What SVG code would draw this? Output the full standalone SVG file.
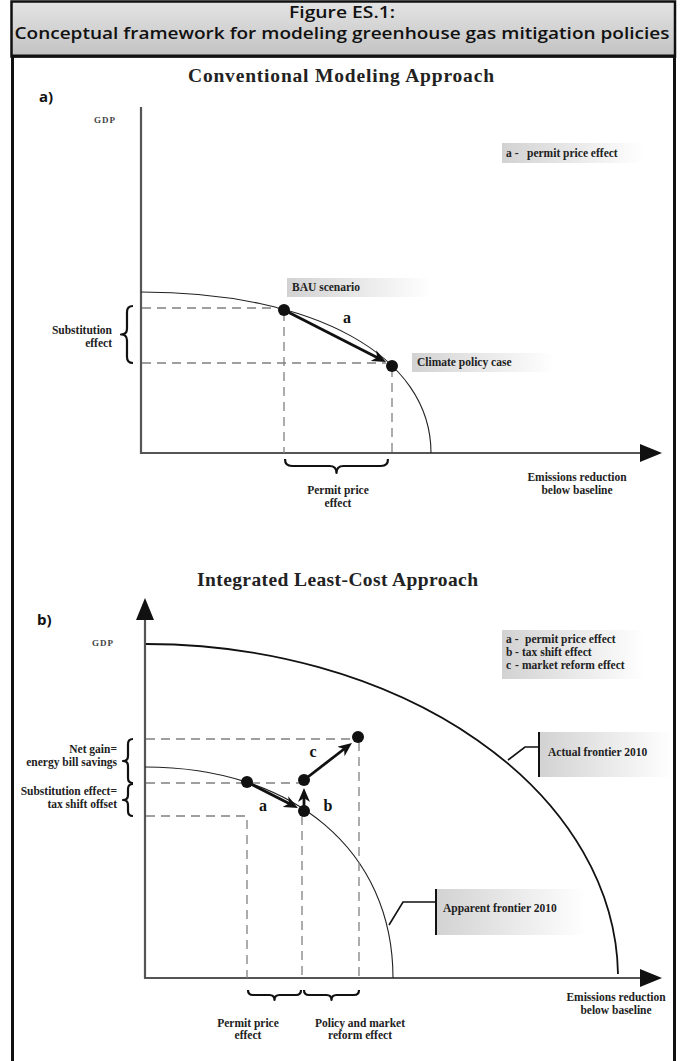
<svg xmlns="http://www.w3.org/2000/svg" width="683" height="1061" viewBox="0 0 683 1061">
<style>
.hdr{font-family:"Open Sans","Noto Sans",sans-serif;font-weight:600;font-size:16px;fill:#111;text-anchor:middle}
.ttl{font-family:"Liberation Serif",serif;font-weight:700;font-size:19.5px;fill:#222;text-anchor:middle}
.pnl{font-family:"Open Sans","Noto Sans",sans-serif;font-weight:700;font-size:15px;fill:#111}
.lbl{font-family:"Liberation Serif",serif;font-weight:700;font-size:11.5px;fill:#222}
.mid{text-anchor:middle}
.end{text-anchor:end}
.gdp{font-family:"Liberation Serif",serif;font-weight:700;font-size:9px;fill:#444;letter-spacing:1px;text-anchor:middle}
.let{font-family:"Liberation Serif",serif;font-weight:700;font-size:16px;fill:#111;text-anchor:middle}
.axis{stroke:#555;stroke-width:2.2;fill:none}
.dash{stroke:#808080;stroke-width:1.3;stroke-dasharray:9 6;fill:none}
.curve{stroke:#222;stroke-width:1.1;fill:none}
.curveb{stroke:#111;stroke-width:1.8;fill:none}
.brace{stroke:#111;stroke-width:2.2;fill:none;stroke-linejoin:round}
.move{stroke:#111;stroke-width:2.8;fill:none;marker-end:url(#barb)}
.lead{stroke:#111;stroke-width:1.6;fill:none}
.dot{fill:#111}
</style>
<defs>
<linearGradient id="hdrg" x1="0" y1="0" x2="0" y2="1">
<stop offset="0" stop-color="#e4e4e4"/>
<stop offset="1" stop-color="#c2c2c2"/>
</linearGradient>
<linearGradient id="fade" x1="0" y1="0" x2="1" y2="0">
<stop offset="0" stop-color="#d2d2d2"/>
<stop offset="1" stop-color="#ffffff"/>
</linearGradient>
<marker id="barb" viewBox="0 0 14 12" markerWidth="14" markerHeight="12" refX="9" refY="6" orient="auto" markerUnits="userSpaceOnUse">
<path d="M0,0 L14,6 L0,12 L4,6 z" fill="#111"/>
</marker>
<marker id="tri" viewBox="0 0 22 18" markerWidth="22" markerHeight="18" refX="2" refY="9" orient="auto" markerUnits="userSpaceOnUse">
<path d="M0,0 L22,9 L0,18 z" fill="#111"/>
</marker>
</defs>

<rect x="0" y="0" width="683" height="1061" fill="#ffffff"/>

<g id="header">
<rect x="11.5" y="1.5" width="663.5" height="55" fill="url(#hdrg)" stroke="#111" stroke-width="2.5"/>
<text class="hdr" x="342" y="18" textLength="106" lengthAdjust="spacingAndGlyphs">Figure ES.1:</text>
<text class="hdr" x="342" y="39" textLength="655" lengthAdjust="spacingAndGlyphs">Conceptual framework for modeling greenhouse gas mitigation policies</text>
</g>
<rect id="frame" x="12.5" y="56" width="662" height="1010" fill="none" stroke="#111" stroke-width="3"/>

<!-- Panel a -->
<g id="title-a"><text class="ttl" x="341" y="82" textLength="306">Conventional Modeling Approach</text></g>
<g id="panel-a-label"><text class="pnl" x="39" y="102">a)</text></g>
<g id="gdp-a"><text class="gdp" x="105" y="123">GDP</text></g>

<g id="connectors-a">
<line class="axis" x1="141" y1="107" x2="141" y2="454"/>
<line class="axis" x1="140" y1="453" x2="642" y2="453" marker-end="url(#tri)"/>
<path class="curve" d="M141,292 C315,292 431,356 431,453"/>
<path class="dash" d="M142,308 H284"/>
<path class="dash" d="M142,363 H386"/>
<path class="dash" d="M284,312 V453"/>
<path class="dash" d="M392,368 V453"/>
<path class="move" d="M284,310 L381.5,359.7"/>
<path class="brace" d="M133,306 Q127,306 127,312 L127,328.5 Q127,334.5 121,334.5 Q127,334.5 127,340.5 L127,357 Q127,363 133,363"/>
<path class="brace" d="M285,459 Q285,466 292,466 L329.5,466 Q336.5,466 336.5,473 Q336.5,466 343.5,466 L381,466 Q388,466 388,459"/>
</g>

<g id="bau">
<rect x="287" y="278" width="145" height="19" fill="url(#fade)"/>
<text class="lbl" x="292" y="291">BAU scenario</text>
<circle class="dot" cx="284" cy="310" r="6"/>
</g>
<g id="climate">
<rect x="412" y="353" width="142" height="19" fill="url(#fade)"/>
<text class="lbl" x="417" y="366">Climate policy case</text>
<circle class="dot" cx="392" cy="366" r="6"/>
</g>
<g id="label-a-move"><text class="let" x="347" y="323">a</text></g>
<g id="substitution-a">
<text class="lbl end" x="112" y="334">Substitution</text>
<text class="lbl end" x="112" y="347">effect</text>
</g>
<g id="permit-a">
<text class="lbl mid" x="338" y="494">Permit price</text>
<text class="lbl mid" x="338" y="507">effect</text>
</g>
<g id="emissions-a">
<text class="lbl mid" x="577" y="481">Emissions reduction</text>
<text class="lbl mid" x="577" y="494">below baseline</text>
</g>
<g id="legend-a">
<rect x="502" y="143" width="142" height="20" fill="url(#fade)"/>
<text class="lbl" x="506" y="157">a -</text>
<text class="lbl" x="527" y="157">permit price effect</text>
</g>

<!-- Panel b -->
<g id="title-b"><text class="ttl" x="337.5" y="586" textLength="281">Integrated Least-Cost Approach</text></g>
<g id="panel-b-label"><text class="pnl" x="37" y="625">b)</text></g>
<g id="gdp-b"><text class="gdp" x="103" y="646">GDP</text></g>

<g id="connectors-b">
<line class="axis" x1="145" y1="979" x2="145" y2="618" marker-end="url(#tri)"/>
<line class="axis" x1="144" y1="978" x2="642" y2="978" marker-end="url(#tri)"/>
<path class="curveb" d="M146,644 A472,334 0 0 1 618,974"/>
<path class="curve" d="M145,767 C294,767 393,851 393,978"/>
<path class="dash" d="M146,739 H358"/>
<path class="dash" d="M146,783 H304"/>
<path class="dash" d="M146,816 H247 V978"/>
<path class="dash" d="M302,816 V978"/>
<path class="dash" d="M359,742 V978"/>
<path class="move" d="M247,782 L293.5,805.7"/>
<path class="move" d="M304,811 L304,793"/>
<path class="move" d="M304,780 L348,746"/>
<path class="brace" d="M133,739 Q128,739 128,744 L128,756 Q128,761 123,761 Q128,761 128,766 L128,778 Q128,783 133,783"/>
<path class="brace" d="M133,784 Q128,784 128,789 L128,795 Q128,800 123,800 Q128,800 128,805 L128,811 Q128,816 133,816"/>
<path class="brace" d="M248,990 Q248,995 253,995 L269.5,995 Q274.5,995 274.5,1000 Q274.5,995 279.5,995 L296,995 Q301,995 301,990"/>
<path class="brace" d="M304,990 Q304,995 309,995 L326.5,995 Q331.5,995 331.5,1000 Q331.5,995 336.5,995 L354,995 Q359,995 359,990"/>
<path class="lead" d="M508,760 L525,747 H539"/>
<path class="lead" d="M389,925 L403,902 H436"/>
</g>

<g id="point-start"><circle class="dot" cx="247" cy="782" r="6"/></g>
<g id="point-tax"><circle class="dot" cx="304" cy="811" r="6"/></g>
<g id="point-mid"><circle class="dot" cx="304" cy="780" r="6"/></g>
<g id="point-end"><circle class="dot" cx="358" cy="737" r="6"/></g>
<g id="labels-abc">
<text class="let" x="263" y="811">a</text>
<text class="let" x="328" y="811">b</text>
<text class="let" x="313" y="757">c</text>
</g>
<g id="legend-b">
<rect x="502" y="630" width="143" height="49" fill="url(#fade)"/>
<text class="lbl" x="506" y="643">a -</text>
<text class="lbl" x="525" y="643">permit price effect</text>
<text class="lbl" x="506" y="656">b</text>
<text class="lbl" x="515" y="656">-</text>
<text class="lbl" x="522" y="656">tax shift effect</text>
<text class="lbl" x="506" y="669">c</text>
<text class="lbl" x="515" y="669">-</text>
<text class="lbl" x="522" y="669">market reform effect</text>
</g>
<g id="actual-frontier">
<rect x="539" y="732" width="134" height="45" fill="url(#fade)"/>
<line x1="539" y1="732" x2="539" y2="777" stroke="#111" stroke-width="2"/>
<text class="lbl" x="548" y="756">Actual frontier 2010</text>
</g>
<g id="apparent-frontier">
<rect x="436" y="889" width="150" height="46" fill="url(#fade)"/>
<line x1="436" y1="889" x2="436" y2="935" stroke="#111" stroke-width="2"/>
<text class="lbl" x="443" y="912">Apparent frontier 2010</text>
</g>
<g id="netgain">
<text class="lbl end" x="117" y="753">Net gain=</text>
<text class="lbl end" x="117" y="766">energy bill savings</text>
</g>
<g id="substitution-b">
<text class="lbl end" x="117" y="795">Substitution effect=</text>
<text class="lbl end" x="117" y="808">tax shift offset</text>
</g>
<g id="permit-b">
<text class="lbl mid" x="248" y="1027">Permit price</text>
<text class="lbl mid" x="248" y="1039">effect</text>
</g>
<g id="policy-b">
<text class="lbl mid" x="360" y="1027">Policy and market</text>
<text class="lbl mid" x="360" y="1039">reform effect</text>
</g>
<g id="emissions-b">
<text class="lbl mid" x="616" y="1001">Emissions reduction</text>
<text class="lbl mid" x="616" y="1014">below baseline</text>
</g>
</svg>
